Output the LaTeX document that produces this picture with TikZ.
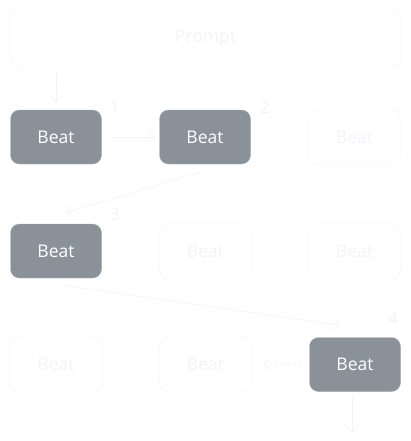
\documentclass[tikz,border=0pt]{standalone}
\usepackage{fontspec}
\setmainfont{Open Sans}
\usetikzlibrary{arrows.meta}
\definecolor{B1}{RGB}{138,145,153}
\definecolor{B2}{RGB}{168,173,180}
\definecolor{F1}{RGB}{243,243,248}
\definecolor{F2}{RGB}{242,243,248}
\tikzstyle{beat}=[shape=rectangle, rounded corners=9pt, minimum width=91pt, minimum height=54pt, inner sep=0, fill=B1, draw=B2, text=white, font=\fontsize{17.5}{17.5}\selectfont]
\tikzstyle{ghost}=[shape=rectangle, rounded corners=9pt, minimum width=92pt, minimum height=55pt, inner sep=0, draw=F1, text=F1, font=\fontsize{17.5}{17.5}\selectfont]
\tikzstyle{num}=[text=F1, font=\fontsize{17}{17}\selectfont]
\tikzstyle{link}=[F2, semithick, -{Straight Barb[length=7pt,width=13pt]}]

\begin{document}
\begin{tikzpicture}[x=1pt, y=-1pt]
    \useasboundingbox (0,0) rectangle (411,441);
    \draw (205.5,38) node[ghost, minimum width=391pt, minimum height=56pt](p){Prompt};
    \draw (56,137) node[beat](b1){Beat}; \draw (205,137) node[beat](b2){Beat}; \draw (354.5,137) node[ghost](b3){Beat};
    \draw (56,251) node[beat](b4){Beat}; \draw (205.5,251) node[ghost](b5){Beat}; \draw (354.5,251) node[ghost](b6){Beat};
    \draw (56,364.5) node[ghost](b7){Beat}; \draw (205.5,364.5) node[ghost](b8){Beat}; \draw (355,364.5) node[beat](b9){Beat};
    \coordinate (end) at (352,433);
    \draw[link, shorten <=7pt, shorten >=7pt] (p.south -| b1) -- (b1);
    \draw[link, shorten <=9pt, shorten >=4pt] (b1.east) -- (b2.west);
    \draw[link] ([xshift=-5pt,yshift=-8pt]b2.south) -- ([xshift=10pt,yshift=11pt]b4.north);
    \draw[link] ([xshift=7pt,yshift=-7pt]b4.south) -- ([xshift=-15pt,yshift=12pt]b9.north);
    \draw[link, dashed, shorten <=7pt, shorten >=12pt] (b9.west) -- (b8.east);
    \draw[link, shorten <=5pt] (b9.south -| end) -- (end);
    \draw (115,107) node[num]{1}; \draw (265,107) node[num]{2};
    \draw (115,214) node[num]{3}; \draw (393,318) node[num]{4};
  \end{tikzpicture}
\end{document}
